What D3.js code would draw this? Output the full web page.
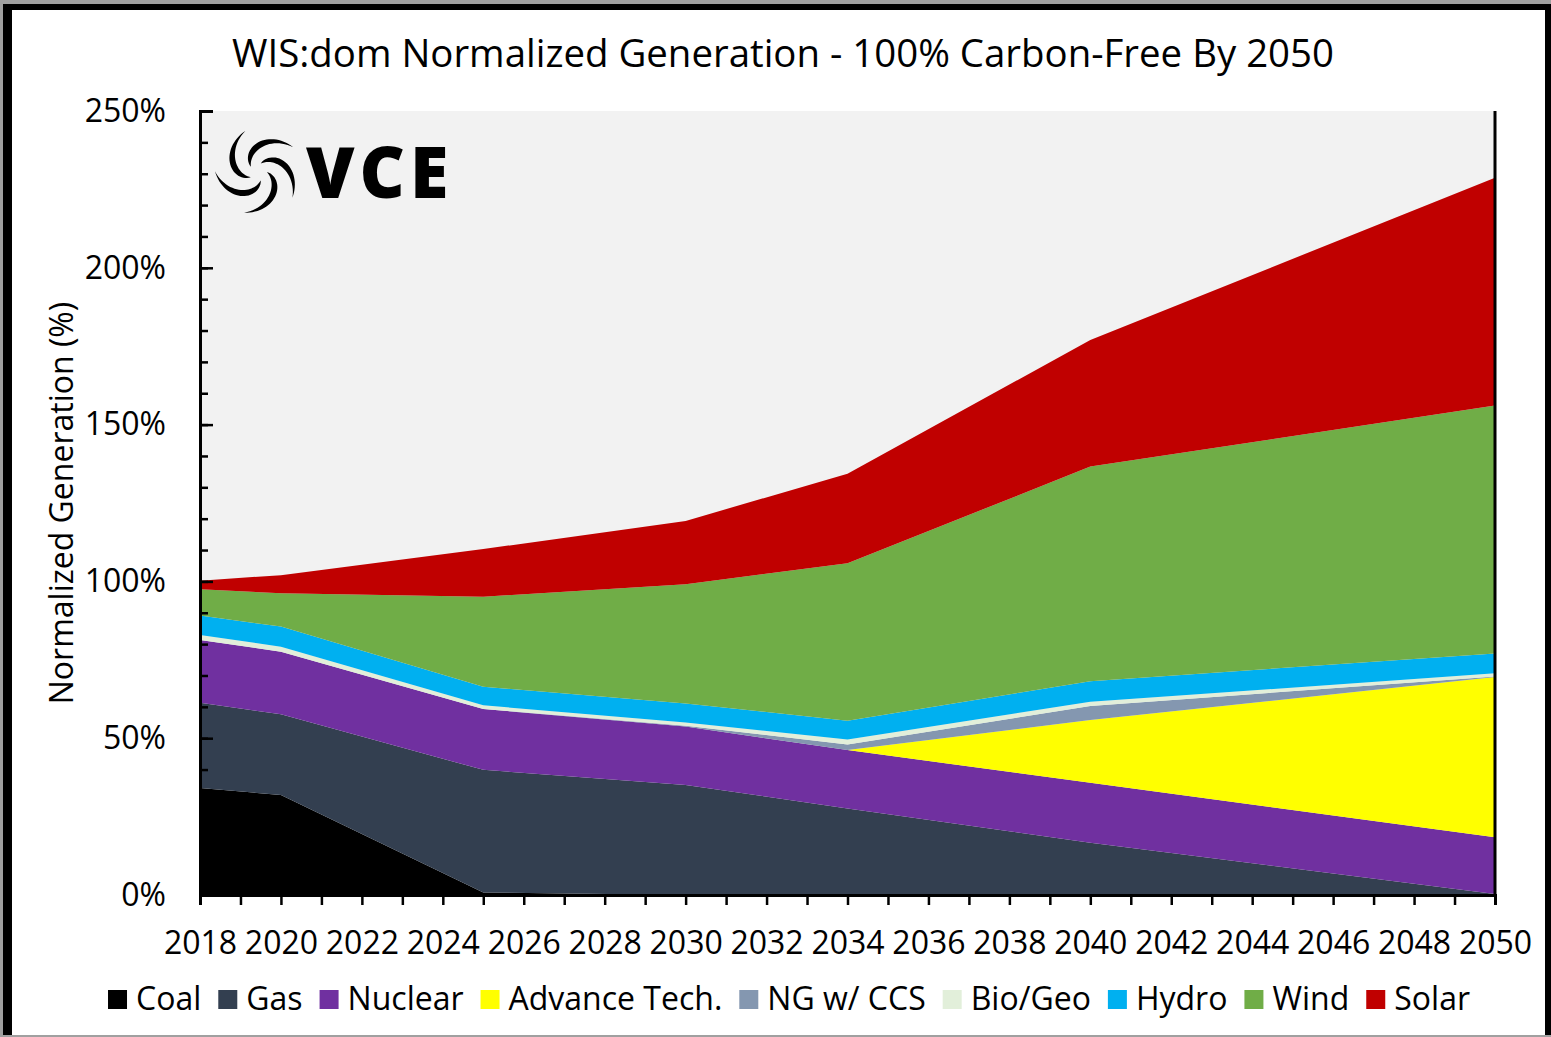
<!DOCTYPE html>
<html>
<head>
<meta charset="utf-8">
<script src="https://cdn.jsdelivr.net/npm/d3@7"></script>
<style>
	body { margin: 0; background: #fff; }
	svg { display: block; }
	text { font-family: 'Open Sans', sans-serif; fill: #000; }
</style>
</head>
<body>
<div id="chart"></div>
<script>
// Data (percent of 2018 generation)
const years = [2018, 2020, 2025, 2030, 2034, 2040, 2050];
const seriesNames = ['Coal', 'Gas', 'Nuclear', 'Advance Tech.', 'NG w/ CCS', 'Bio/Geo', 'Hydro', 'Wind', 'Solar'];
const coal = [34.1, 31.9, 0.8, 0, 0, 0, 0];
const gas = [27.2, 25.7, 39.1, 35.1, 27.6, 16.7, 0.3];
const nuclear = [20.0, 20.0, 19.4, 18.6, 18.6, 19.1, 18.1];
const advanceTech = [0, 0, 0, 0, 0, 20.0, 51.1];
const ngCcs = [0, 0, 0, 0.3, 1.8, 4.5, 0.2];
const bioGeo = [1.6, 1.6, 1.2, 1.0, 1.6, 1.3, 1.0];
const hydro = [6.2, 6.4, 5.9, 6.1, 6.0, 6.6, 6.3];
const wind = [8.4, 10.6, 28.7, 38.0, 50.2, 68.4, 79.1];
const solar = [2.7, 5.8, 15.2, 20.2, 28.5, 40.4, 72.6];
const seriesColors = ['#000000', '#333f50', '#7030a0', '#ffff00', '#8497b0', '#e2efda', '#00b0f0', '#70ad47', '#c00000'];
const yTicks = [0, 50, 100, 150, 200, 250];

const title = 'WIS:dom Normalized Generation - 100% Carbon-Free By 2050';
const yTitle = 'Normalized Generation (%)';

const W = 1551, H = 1037;
const plot = { left: 200, right: 1495, top: 111, bottom: 895 };

const allSeries = [coal, gas, nuclear, advanceTech, ngCcs, bioGeo, hydro, wind, solar];
const rows = years.map((year, i) => {
	const row = { year };
	seriesNames.forEach((name, s) => { row[name] = allSeries[s][i]; });
	return row;
});

const svg = d3.select('#chart').append('svg').attr('width', W).attr('height', H);

// Window frame
svg.append('rect').attr('width', W).attr('height', H).attr('fill', '#a0a0a0');
svg.append('rect').attr('x', 3).attr('y', 4).attr('width', W - 3).attr('height', 1031).attr('fill', '#000');
svg.append('rect').attr('x', 12).attr('y', 10).attr('width', 1533).attr('height', 1025).attr('fill', '#fff');

const x = d3.scaleLinear().domain([2018, 2050]).range([plot.left, plot.right]);
const y = d3.scaleLinear().domain([0, 250]).range([plot.bottom, plot.top]);

// Plot background
svg.append('rect')
	.attr('x', plot.left).attr('y', plot.top)
	.attr('width', plot.right - plot.left).attr('height', plot.bottom - plot.top)
	.attr('fill', '#f2f2f2');

// Stacked areas
const stack = d3.stack().keys(seriesNames);
const layers = stack(rows);
const area = d3.area()
	.x((d) => x(d.data.year))
	.y0((d) => y(d[0]))
	.y1((d) => y(d[1]));

svg.append('g')
	.selectAll('path')
	.data(layers)
	.enter()
	.append('path')
	.attr('d', area)
	.attr('fill', (d, i) => seriesColors[i]);

// Logo
const logo = svg.append('g').attr('transform', 'translate(258,172)');
const arm = (t0) => {
	const pts = [];
	const inner = [];
	const n = 30;
	for (let k = 0; k <= n; k++) {
		const t = k / n;
		const r = 9 + 34 * t;
		const a = t0 + t * 1.9;
		const w = 3.8 * Math.sin(Math.PI * Math.pow(t, 0.8));
		pts.push([(r + w) * Math.cos(a), (r + w) * Math.sin(a)]);
		inner.push([(r - w) * Math.cos(a), (r - w) * Math.sin(a)]);
	}
	return 'M' + pts.concat(inner.reverse()).map((p) => p.join(',')).join('L') + 'Z';
};
for (let i = 0; i < 5; i++) {
	logo.append('path').attr('d', arm(i * (2 * Math.PI / 5))).attr('fill', '#000');
}
svg.append('text')
	.attr('x', 306).attr('y', 198)
	.style('font-family', "'Open Sans', sans-serif")
	.style('font-weight', 800)
	.style('font-size', '70px')
	.style('letter-spacing', '5px')
	.text('VCE');

// Y axis: minor ticks every 10%, major ticks every 50%
svg.append('g')
	.attr('transform', `translate(${plot.left},0)`)
	.call(d3.axisLeft(y).tickValues(d3.range(0, 251, 10)).tickSize(-8).tickFormat(''))
	.call((g) => g.select('.domain').remove())
	.selectAll('line').attr('stroke', '#000').attr('stroke-width', 2.5);

const yAxis = svg.append('g')
	.attr('transform', `translate(${plot.left},0)`)
	.call(d3.axisLeft(y).tickValues(yTicks).tickSize(-13).tickPadding(34).tickFormat((d) => d + '%'));
yAxis.select('.domain').attr('stroke', '#000').attr('stroke-width', 3);
yAxis.selectAll('line').attr('stroke', '#000').attr('stroke-width', 2.5);
yAxis.selectAll('text').style('font-size', '32px').style('font-family', "'Open Sans', sans-serif").attr('fill', '#000');

// Right border
svg.append('line')
	.attr('x1', plot.right).attr('x2', plot.right)
	.attr('y1', plot.top).attr('y2', plot.bottom)
	.attr('stroke', '#000').attr('stroke-width', 3);

// X axis
const xAxis = svg.append('g')
	.attr('transform', `translate(0,${plot.bottom})`)
	.call(d3.axisBottom(x).tickValues(d3.range(2018, 2051, 1)).tickSize(10).tickPadding(26)
		.tickFormat((d) => (d % 2 === 0 ? d3.format('d')(d) : '')));
xAxis.select('.domain').attr('stroke', '#000').attr('stroke-width', 3);
xAxis.selectAll('line').attr('stroke', '#000').attr('stroke-width', 2.5);
xAxis.selectAll('text').style('font-size', '32px').style('font-family', "'Open Sans', sans-serif").attr('fill', '#000');

// Titles
svg.append('text')
	.attr('x', 783).attr('y', 67)
	.attr('text-anchor', 'middle')
	.style('font-size', '38.4px')
	.text(title);

svg.append('text')
	.attr('transform', 'translate(73,503) rotate(-90)')
	.attr('text-anchor', 'middle')
	.style('font-size', '32px')
	.text(yTitle);

// Legend
const legend = svg.append('g').attr('transform', 'translate(0,999)');
const items = legend.selectAll('g').data(seriesNames).enter().append('g');
items.append('rect')
	.attr('x', 0).attr('y', -9).attr('width', 19).attr('height', 19)
	.attr('fill', (d, i) => seriesColors[i]);
items.append('text')
	.attr('x', 28).attr('y', 11)
	.style('font-size', '32px')
	.text((d) => d);
let cursor = 0;
const widths = [];
items.each(function () {
	widths.push(d3.select(this).select('text').node().getComputedTextLength());
});
const gap = 17;
const total = d3.sum(widths, (w) => 28 + w) + gap * (widths.length - 1);
cursor = 789 - total / 2;
items.attr('transform', (d, i) => {
	const pos = cursor;
	cursor += 28 + widths[i] + gap;
	return `translate(${pos},0)`;
});
</script>
</body>
</html>
